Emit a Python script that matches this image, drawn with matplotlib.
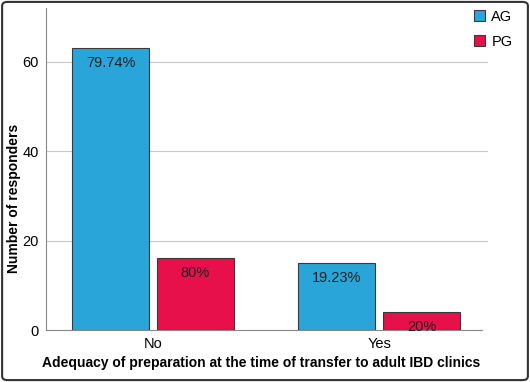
import matplotlib.pyplot as plt
import numpy as np
from matplotlib.patches import FancyBboxPatch

categories = ["No", "Yes"]
ag_values = [63, 15]
pg_values = [16, 4]
ag_labels = ["79.74%", "19.23%"]
pg_labels = ["80%", "20%"]
yticks = [0, 20, 40, 60]

plt.rcParams['font.family'] = ['Liberation Sans', 'DejaVu Sans']

fig = plt.figure(figsize=(5.3, 3.82), dpi=100)
ax = fig.add_axes([46 / 530, 1 - 330 / 382, 442 / 530, 322 / 382])

x = np.arange(len(categories))
w = 0.34
gap = 0.035
b1 = ax.bar(x - w / 2 - gap / 2, ag_values, w, color='#2aa5da', edgecolor='#3a3a3a',
            linewidth=0.8, label='AG', zorder=3)
b2 = ax.bar(x + w / 2 + gap / 2, pg_values, w, color='#e8104a', edgecolor='#3a3a3a',
            linewidth=0.8, label='PG', zorder=3)

for bars, labs in [(b1, ag_labels), (b2, pg_labels)]:
    for bar, lab in zip(bars, labs):
        ax.annotate(lab, (bar.get_x() + bar.get_width() / 2, bar.get_height()),
                    xytext=(0, -10.5), textcoords='offset points', ha='center', va='center',
                    fontsize=10.5, color='#222222', zorder=4)

ax.set_xlim(-0.473, 1.48)
ax.set_ylim(0, 72)
ax.set_xticks(x)
ax.set_xticklabels(categories, fontsize=10.5)
ax.set_yticks(yticks)
ax.tick_params(axis='both', length=0, labelsize=10.5, pad=5)
ax.yaxis.grid(True, color='#c8c8c8', linewidth=0.8, zorder=0)
for s in ['top', 'right']:
    ax.spines[s].set_visible(False)
ax.spines['left'].set_color('#888888')
ax.spines['bottom'].set_color('#888888')
ax.spines['bottom'].set_bounds(-0.473, 1.455)

fig.text(261 / 530, 1 - 363 / 382,
         'Adequacy of preparation at the time of transfer to adult IBD clinics',
         fontsize=10, fontweight='bold', ha='center', va='center')
fig.text(14 / 530, 1 - 198 / 382, 'Number of responders', fontsize=10,
         fontweight='bold', rotation=90, ha='center', va='center')

ax.legend(loc='upper right', bbox_to_anchor=(1.085, 1.035), frameon=False, fontsize=10.5,
          handlelength=0.8, handleheight=0.8, handletextpad=0.4, labelspacing=0.75)

fig.patches.append(FancyBboxPatch((0.004, 0.005), 0.992, 0.99,
                                  boxstyle='round,pad=0,rounding_size=0.01',
                                  transform=fig.transFigure, fill=False,
                                  edgecolor='#333333', linewidth=1.5))

fig.savefig('out.png', dpi=100)
